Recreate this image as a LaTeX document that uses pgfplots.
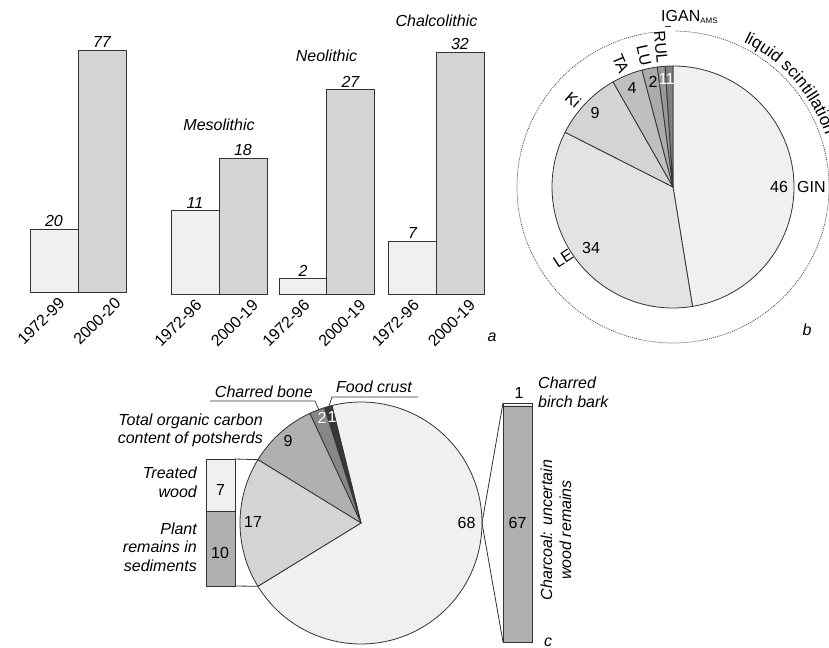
\documentclass[border=0pt]{standalone}
\usepackage{fontspec}
\setmainfont{Liberation Sans}
\usepackage{pgfplots}
\pgfplotsset{compat=1.18}
\usetikzlibrary{decorations.text}
\newcommand\fsz{\fontsize{16bp}{19bp}\selectfont}
\definecolor{edge}{gray}{0.2}
\definecolor{g94}{gray}{0.94}
\definecolor{g89}{gray}{0.89}
\definecolor{g83}{gray}{0.83}
\definecolor{g75}{gray}{0.75}
\definecolor{g69}{gray}{0.69}
\definecolor{g67}{gray}{0.67}
\definecolor{g60}{gray}{0.60}
\definecolor{g53}{gray}{0.53}
\definecolor{g50}{gray}{0.50}
\definecolor{g20}{gray}{0.22}
% panel b data: GIN LE Ki TA LU RUL IGAN (total 97), clockwise from top
\pgfmathsetmacro\bA{90}
\pgfmathsetmacro\bB{\bA-46/97*360}
\pgfmathsetmacro\bC{\bB-34/97*360}
\pgfmathsetmacro\bD{\bC-9/97*360}
\pgfmathsetmacro\bE{\bD-4/97*360}
\pgfmathsetmacro\bF{\bE-2/97*360}
\pgfmathsetmacro\bG{\bF-1/97*360}
\pgfmathsetmacro\bH{\bG-1/97*360}
% panel c data: 68, food crust 1, charred bone 2, TOC 9, 17 (total 97)
\pgfmathsetmacro\cA{17/97*180-180}
\pgfmathsetmacro\cB{\cA+68/97*360}
\pgfmathsetmacro\cC{\cB+1/97*360}
\pgfmathsetmacro\cD{\cC+2/97*360}
\pgfmathsetmacro\cE{\cD+9/97*360}
\pgfmathsetmacro\cF{\cE+17/97*360}
\newcommand\pieslice[6]{\filldraw[fill=#6, draw=edge, line width=0.8bp, line join=round] (axis cs:#1,#2) -- ++(#4:#3bp) arc[start angle=#4, end angle=#5, radius=#3bp] -- cycle;}
\begin{document}
\begin{tikzpicture}[lab/.style={font=\fsz, inner sep=0pt}, ilab/.style={font=\fsz\itshape, inner sep=0pt}]
\useasboundingbox (0,0) rectangle (829bp,648bp);
\pgfplotsset{barax/.style={scale only axis, anchor=south west, clip=false,
  axis line style={draw=none}, major tick length=0pt, ytick=\empty,
  tick label style={font=\fsz, inner sep=0pt},
  xticklabel style={rotate=45, anchor=north east, xshift=6bp, yshift=-12bp},
  nodes near coords, nodes near coords style={font=\fsz\itshape, inner sep=2bp},
  /pgf/number format/assume math mode=true,
  every axis plot/.append style={draw=edge, line width=0.8bp}}}
% panel a: totals
\begin{axis}[barax, at={(20bp,356bp)}, width=120bp, height=282.6bp,
  xmin=20, xmax=140, ymin=0, ymax=90, ybar, bar width=48,
  xtick={45,101}, xticklabels={1972-99,2000-20}]
\addplot[fill=g94, bar shift=0pt] coordinates {(54,20)};
\addplot[fill=g83, bar shift=0pt] coordinates {(102,77)};
\end{axis}
% panel a: periods
\begin{axis}[barax, at={(160bp,354bp)}, width=340bp, height=287.3bp,
  xmin=160, xmax=500, ymin=0, ymax=38, ybar, bar width=48,
  xtick={182,238.5,290,346,399.5,455.5},
  xticklabels={1972-96,2000-19,1972-96,2000-19,1972-96,2000-19}]
\addplot[fill=g94, bar shift=0pt] coordinates {(195,11) (303,2) (412.5,7)};
\addplot[fill=g83, bar shift=0pt] coordinates {(243,18) (350.5,27) (460,32)};
\node[ilab, anchor=base] at (axis cs:219,21.6) {Mesolithic};
\node[ilab, anchor=base] at (axis cs:326.5,30.7) {Neolithic};
\node[ilab, anchor=base] at (axis cs:436.5,35.4) {Chalcolithic};
\end{axis}
% panel c side bars
\begin{axis}[scale only axis, anchor=south west, at={(200.5bp,62bp)}, width=40bp, height=127bp,
  xmin=200.5, xmax=240.5, ymin=0, ymax=17, ybar stacked, bar width=29, hide axis, clip=false]
\addplot[fill=g69, draw=edge, line width=0.8bp] coordinates {(220.5,10)};
\addplot[fill=g94, draw=edge, line width=0.8bp] coordinates {(220.5,7)};
\end{axis}
\begin{axis}[scale only axis, anchor=south west, at={(497.5bp,6bp)}, width=40bp, height=239bp,
  xmin=497.5, xmax=537.5, ymin=0, ymax=68, ybar stacked, bar width=29, hide axis, clip=false]
\addplot[fill=g69, draw=edge, line width=0.8bp] coordinates {(517.5,67)};
\addplot[fill=g94, draw=edge, line width=0.8bp] coordinates {(517.5,1)};
\end{axis}
% pies
\begin{axis}[scale only axis, anchor=south west, at={(0bp,0bp)}, width=829bp, height=648bp,
  xmin=0, xmax=829, ymin=0, ymax=648, hide axis, clip=false]
\pieslice{673}{461}{121}{\bA}{\bB}{g94}
\pieslice{673}{461}{121}{\bB}{\bC}{g89}
\pieslice{673}{461}{121}{\bC}{\bD}{g83}
\pieslice{673}{461}{121}{\bD}{\bE}{g75}
\pieslice{673}{461}{121}{\bE}{\bF}{g67}
\pieslice{673}{461}{121}{\bF}{\bG}{g60}
\pieslice{673}{461}{121}{\bG}{\bH}{g50}
\pieslice{361}{125}{121}{\cA}{\cB}{g94}
\pieslice{361}{125}{121}{\cB}{\cC}{g20}
\pieslice{361}{125}{121}{\cC}{\cD}{g53}
\pieslice{361}{125}{121}{\cD}{\cE}{g69}
\pieslice{361}{125}{121}{\cE}{\cF}{g83}
\end{axis}
% panel labels
\node[ilab] at (492bp,311bp) {a};
\node[ilab] at (807bp,318bp) {b};
\node[ilab] at (548bp,6bp) {c};
% panel b texts
\draw[black!75, line width=0.7bp, dash pattern=on 1bp off 1bp] (673bp,461bp) ++(89:156bp) arc[start angle=89, end angle=-263, radius=156bp];
\path[decorate, decoration={text along path, text={|\fontsize{17bp}{19bp}\selectfont|liquid scintillation}, text align={left indent=0pt}}]
  (673bp,461bp) ++(64:161bp) arc[start angle=64, end angle=-30, radius=161bp];
\node[lab] at (779bp,461bp) {46};
\node[lab, anchor=west] at (797bp,461bp) {GIN};
\node[lab] at (591bp,400bp) {34};
\node[lab] at (595bp,535bp) {9};
\node[lab] at (632bp,560bp) {4};
\node[lab] at (653bp,566bp) {2};
\node[lab, text=white] at (663bp,569bp) {1};
\node[lab, text=white] at (670bp,569bp) {1};
\path (673bp,461bp) ++(213:121bp) node[lab, anchor=east, rotate=33] {LE};
\path (673bp,461bp) ++(139:125bp) node[lab, anchor=east, rotate=-41] {Ki};
\path (673bp,461bp) ++(113:124bp) node[lab, anchor=east, rotate=-67] {TA};
\path (673bp,461bp) ++(102.5:124bp) node[lab, anchor=east, rotate=-77.5] {LU};
\path (673bp,461bp) ++(95:124bp) node[lab, anchor=east, rotate=-85] {RUL};
\node[lab, anchor=base west] at (661bp,626bp) {IGAN\raisebox{-1.5bp}{\fontsize{8bp}{9bp}\selectfont AMS}};
\draw[edge, line width=0.7bp] (665bp,622bp) -- (671bp,622bp);
% panel c texts
\node[lab] at (466.5bp,125bp) {68};
\node[lab] at (253bp,126bp) {17};
\node[lab] at (288bp,207bp) {9};
\node[lab, text=white] at (322bp,230bp) {2};
\node[lab, text=white] at (332bp,231bp) {1};
\node[lab] at (220.5bp,158bp) {7};
\node[lab] at (220bp,95bp) {10};
\node[lab] at (517.5bp,125bp) {67};
\node[lab] at (519bp,255bp) {1};
\path (361bp,125bp) ++(148.45:121bp) coordinate (pt1);
\path (361bp,125bp) ++(211.55:121bp) coordinate (pb1);
\draw[edge, line width=0.8bp] (235bp,189bp) -- (pt1);
\draw[edge, line width=0.8bp] (235bp,62bp) -- (pb1);
\draw[edge, line width=0.8bp] (503bp,245bp) -- (482bp,125bp) -- (503bp,6bp);
\node[ilab, anchor=base east] at (313bp,250bp) {Charred bone};
\draw[edge, line width=0.7bp] (210bp,247bp) -- (315bp,247bp) -- (319bp,238bp);
\node[ilab, anchor=base west] at (336bp,255bp) {Food crust};
\draw[edge, line width=0.7bp] (418bp,251bp) -- (332bp,251bp) -- (329bp,242bp);
\node[ilab, anchor=base east] at (263bp,222bp) {Total organic carbon};
\node[ilab, anchor=base east] at (263bp,204bp) {content of potsherds};
\node[ilab, anchor=base east] at (197bp,169bp) {Treated};
\node[ilab, anchor=base east] at (197bp,150bp) {wood};
\node[ilab, anchor=base east] at (197bp,113bp) {Plant};
\node[ilab, anchor=base east] at (197bp,95bp) {remains in};
\node[ilab, anchor=base east] at (197bp,76bp) {sediments};
\node[ilab, anchor=base west] at (538bp,259bp) {Charred};
\node[ilab, anchor=base west] at (538bp,240bp) {birch bark};
\node[ilab, rotate=90, align=center, font=\fontsize{16bp}{19bp}\selectfont\itshape] at (556bp,118bp) {Charcoal: uncertain\\wood remains};
\end{tikzpicture}
\end{document}
